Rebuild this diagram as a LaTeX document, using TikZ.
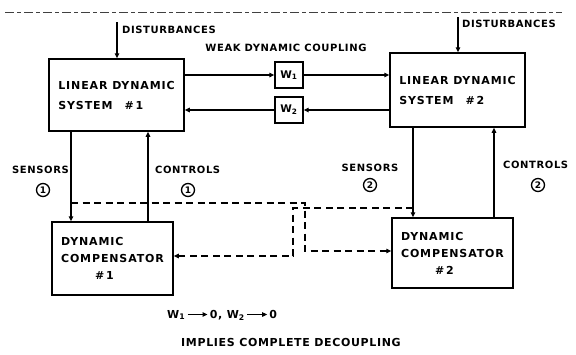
\documentclass[tikz,border=0pt]{standalone}
\usepackage{fontspec}
\setmainfont{DejaVu Sans}
\newfontfamily\letterA{DejaVu Sans}[LetterSpace=8]
\newfontfamily\letterB{DejaVu Sans}[LetterSpace=6]
\usepackage{tikz}
\usetikzlibrary{arrows.meta,calc}
\tikzset{
  sig/.style={line width=1.3pt,-{Triangle[length=5pt,width=4.5pt]}},
  dsig/.style={sig,dash pattern=on 7pt off 4.5pt},
  sysBox/.style={draw,line width=1.5pt,align=left,inner sep=0pt,
        font=\letterA\bfseries\fontsize{11}{20}\selectfont},
  compBox/.style={sysBox,font=\letterA\bfseries\fontsize{11}{17}\selectfont},
  wBox/.style={draw,line width=1.3pt,inner sep=0pt,minimum width=28pt,
        font=\bfseries\fontsize{10.5}{12}\selectfont},
  lbl/.style={inner sep=0pt,font=\letterB\bfseries\fontsize{10}{12}\selectfont},
  bigLbl/.style={lbl,font=\letterB\bfseries\fontsize{11}{13}\selectfont},
  numCirc/.style={circle,draw,line width=1.3pt,inner sep=0pt,minimum size=13pt,
        font=\bfseries\fontsize{9}{10}\selectfont},
}
\newcommand{\tendsto}{\,\tikz[baseline=-0.6ex]\draw[sig,line width=1pt] (0pt,0pt) -- (20pt,0pt);\,}
\begin{document}
\begin{tikzpicture}[x=1pt,y=-1pt]
\useasboundingbox (0,0) rectangle (576,354);
% scan edge at the top
\draw[line width=1pt,black!75,dash pattern=on 9pt off 3pt on 4pt off 3pt] (5,12) -- (562,12);

% plants
\node[sysBox,minimum width=135pt,minimum height=72pt] (box1) at (116.5,95)
  {LINEAR DYNAMIC\\SYSTEM\hspace{1.1em}\#\,1};
\node[sysBox,minimum width=135pt,minimum height=74pt] (box2) at (457.5,90)
  {LINEAR DYNAMIC\\SYSTEM\hspace{1.1em}\#\,2};
\node[wBox,minimum height=26pt] (w1) at (289,75) {W\textsubscript{1}};
\node[wBox,minimum height=26pt] (w2) at (289,110) {W\textsubscript{2}};

% compensators
\node[compBox,minimum width=121pt,minimum height=73pt] (comp1) at (112.5,258.5)
  {DYNAMIC\\COMPENSATOR\\\hspace*{3.1em}\#\,1};
\node[compBox,minimum width=121pt,minimum height=70pt] (comp2) at (452.5,253)
  {DYNAMIC\\COMPENSATOR\\\hspace*{3.1em}\#\,2};

\coordinate (dist1) at (117,22);
\coordinate (dist2) at (458,17);
\coordinate (s1) at (71,203);
\coordinate (c1) at (148,203);
\coordinate (s2) at (413,208);
\coordinate (c2) at (494,208);
\coordinate (jA) at (305,251);
\coordinate (jB) at (293,256);

% labels
\node[lbl,anchor=west] (dl1) at (122,30) {DISTURBANCES};
\node[lbl,anchor=west] (dl2) at (462,24) {DISTURBANCES};
\node[lbl] (weak) at (286,48) {WEAK DYNAMIC COUPLING};
\node[lbl,anchor=east] (sl1) at (69,170) {SENSORS};
\node[numCirc] (sn1) at (43,190) {1};
\node[lbl,anchor=west] (cl1) at (155,170) {CONTROLS};
\node[numCirc] (cn1) at (188,190) {1};
\node[lbl] (sl2) at (370,168) {SENSORS};
\node[numCirc] (sn2) at (370,185) {2};
\node[lbl,anchor=west] (cl2) at (503,165) {CONTROLS};
\node[numCirc] (cn2) at (538,185) {2};
\node[bigLbl,anchor=west] (lim) at (167,315)
  {W\textsubscript{1}\tendsto 0, W\textsubscript{2}\tendsto 0};
\node[bigLbl] (impl) at (291,342) {IMPLIES COMPLETE DECOUPLING};

% connections
\draw[sig] (dist1) -- (dist1 |- box1.north);
\draw[sig] (dist2) -- (dist2 |- box2.north);
\draw[sig] (w1.west -| box1.east) -- (w1.west);
\draw[sig] (w1.east) -- (w1.east -| box2.west);
\draw[sig] (w2.east -| box2.west) -- (w2.east);
\draw[sig] (w2.west) -- (w2.west -| box1.east);
\draw[sig] (box1.south -| s1) -- (comp1.north -| s1);
\draw[sig] (comp1.north -| c1) -- (box1.south -| c1);
\draw[sig] (box2.south -| s2) -- (comp2.north -| s2);
\draw[sig] (comp2.north -| c2) -- (box2.south -| c2);
\draw[dsig] (s1) -| (jA) -- (jA -| comp2.west);
\draw[dsig] (s2) -| (jB) -- (jB -| comp1.east);
\end{tikzpicture}
\end{document}
